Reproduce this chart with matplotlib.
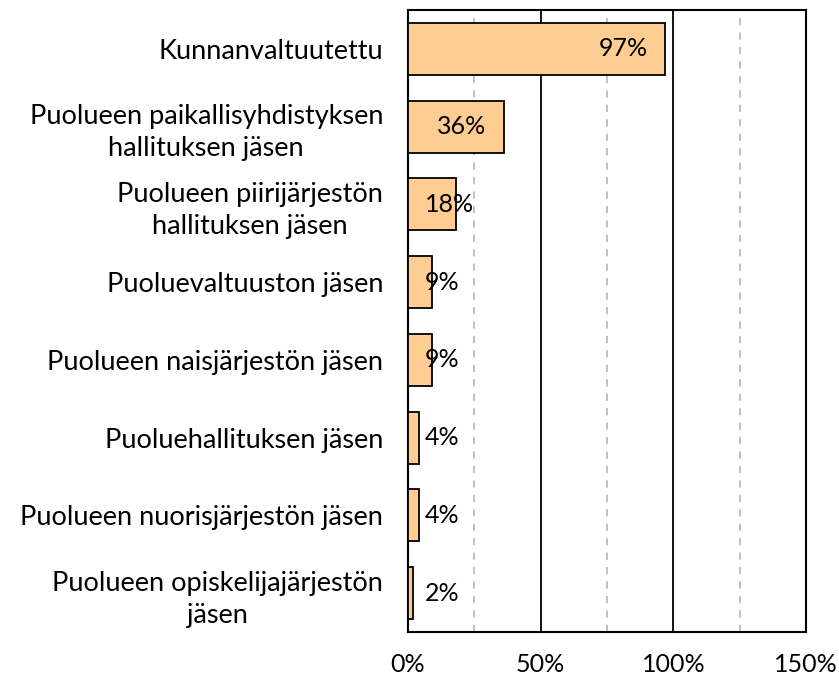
import matplotlib.pyplot as plt
import numpy as np

plt.rcParams['font.family'] = ['Lato', 'DejaVu Sans']

categories = [
    "Kunnanvaltuutettu",
    "Puolueen paikallisyhdistyksen\nhallituksen jäsen",
    "Puolueen piirijärjestön\nhallituksen jäsen",
    "Puoluevaltuuston jäsen",
    "Puolueen naisjärjestön jäsen",
    "Puoluehallituksen jäsen",
    "Puolueen nuorisjärjestön jäsen",
    "Puolueen opiskelijajärjestön\njäsen",
]
values = [97, 36, 18, 9, 9, 4, 4, 2]
xticks = [0, 50, 100, 150]
xticklabels = ["0%", "50%", "100%", "150%"]

fig = plt.figure(figsize=(8.39, 6.78), dpi=100)
ax = fig.add_axes([0.4863, 0.0678, 0.4744, 0.9175])

y = np.arange(len(categories))
ax.barh(y, values, height=0.67, color='#FFCC91', edgecolor='black', linewidth=1.3, zorder=3)

ax.set_xlim(0, 150)
ax.set_ylim(len(categories) - 0.5, -0.5)
ax.set_xticks(xticks)
ax.set_xticklabels(xticklabels, fontsize=18)
ax.set_yticks(y)
ax.set_yticklabels(categories, fontsize=19.5, multialignment='center', linespacing=1.35)
ax.tick_params(axis='both', length=0)
ax.tick_params(axis='x', pad=15)
ax.tick_params(axis='y', pad=18)

for g in [50, 100]:
    ax.axvline(g, color='black', linewidth=1.3, zorder=1)
for g in [25, 75, 125]:
    ax.axvline(g, color='#BBBBBB', linewidth=1.3, linestyle=(0, (4, 4)), zorder=1)

for s in ax.spines.values():
    s.set_linewidth(1.5)

for yi, v in zip(y, values):
    if v >= 30:
        ax.text(v - 6.5, yi, f"{v}%", ha='right', va='center', fontsize=18, zorder=4)
    else:
        ax.text(6.4, yi, f"{v}%", ha='left', va='center', fontsize=18, zorder=4)

fig.savefig('out.png', dpi=100)
